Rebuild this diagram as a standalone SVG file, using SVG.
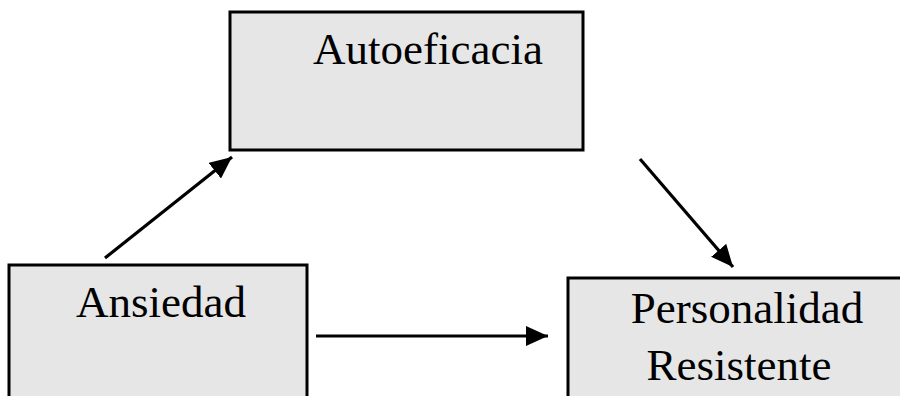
<svg xmlns="http://www.w3.org/2000/svg" width="900" height="396" viewBox="0 0 900 396">
<style>
.box{fill:#e6e6e6;stroke:#000;stroke-width:3}
.lbl{font-family:"Liberation Serif","Times New Roman",serif;font-size:45px;fill:#000}
.edge{stroke:#000;stroke-width:3.2;fill:none}
</style>
<defs>
<marker id="ah" markerUnits="userSpaceOnUse" markerWidth="22" markerHeight="20" refX="22" refY="10" orient="auto" viewBox="0 0 22 20">
<path d="M0,0 L22,10 L0,20 z" fill="#000"/>
</marker>
</defs>
<rect width="900" height="396" fill="#fff"/>
<g id="autoeficacia">
<rect class="box" x="230" y="12" width="353" height="138"/>
<text class="lbl" x="313" y="64">Autoeficacia</text>
</g>
<g id="ansiedad">
<rect class="box" x="9" y="265" width="298" height="140"/>
<text class="lbl" x="76" y="317">Ansiedad</text>
</g>
<g id="personalidad">
<rect class="box" x="568" y="278" width="340" height="130"/>
<text class="lbl" x="747" y="323" text-anchor="middle">Personalidad</text>
<text class="lbl" x="739" y="380" text-anchor="middle">Resistente</text>
</g>
<g id="connectors">
<line class="edge" x1="105" y1="258" x2="232" y2="157" marker-end="url(#ah)"/>
<line class="edge" x1="640" y1="159" x2="733" y2="267" marker-end="url(#ah)"/>
<line class="edge" x1="316" y1="336" x2="548" y2="336" marker-end="url(#ah)"/>
</g>
</svg>
